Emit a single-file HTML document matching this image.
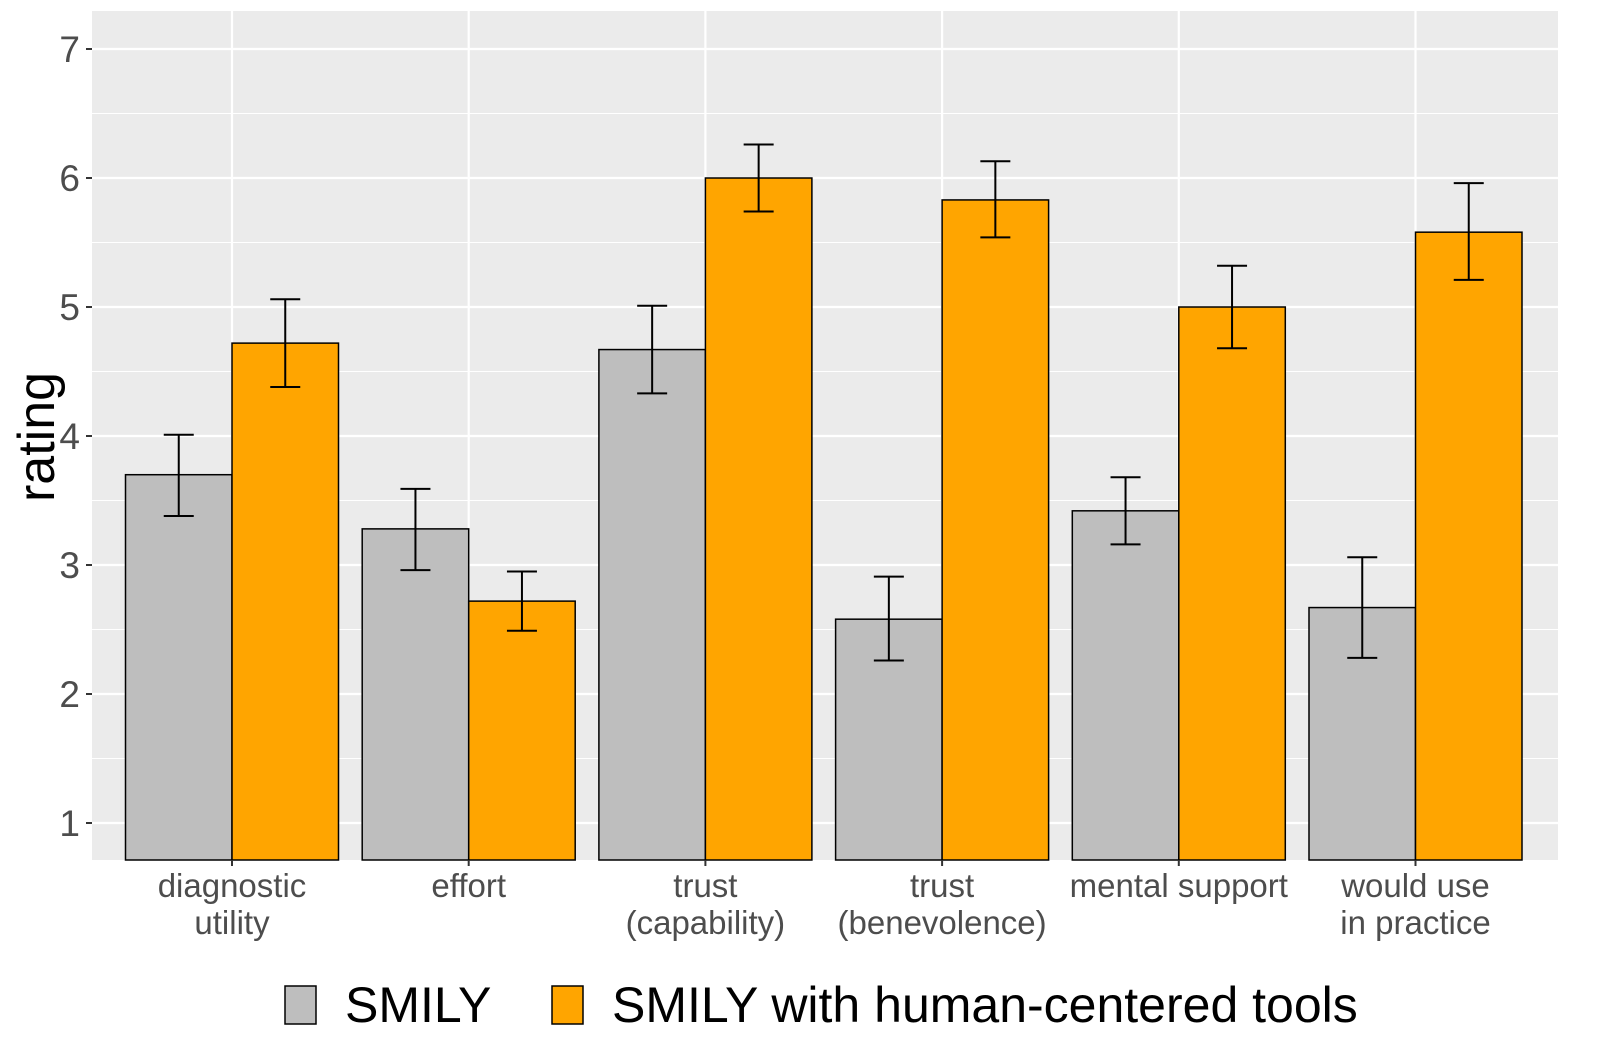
<!DOCTYPE html>
<html><head><meta charset="utf-8"><style>
body{margin:0;background:#fff;}
svg{display:block;font-family:"Liberation Sans",Arial,sans-serif;}
</style></head><body>
<svg id="chart" width="1600" height="1057" xmlns="http://www.w3.org/2000/svg">
<rect x="92" y="11" width="1466" height="849" fill="#ebebeb"/>
<g id="grid"></g><g id="bars"></g><g id="axes"></g>
<text transform="translate(54,437) rotate(-90)" text-anchor="middle" font-size="52" fill="#000">rating</text>
<g>
<rect x="285" y="986" width="31" height="38" fill="#bebebe" stroke="#000" stroke-width="1.5"/>
<text x="345" y="1022" font-size="50" fill="#000">SMILY</text>
<rect x="552" y="986" width="31" height="38" fill="#ffa500" stroke="#000" stroke-width="1.5"/>
<text x="612" y="1022" font-size="50" fill="#000">SMILY with human-centered tools</text>
</g>
</svg>
<script>
const categories=[["diagnostic","utility"],["effort"],["trust","(capability)"],["trust","(benevolence)"],["mental support"],["would use","in practice"]];
const smily=[3.70,3.28,4.67,2.58,3.42,2.67];
const smilyLo=[3.38,2.96,4.33,2.26,3.16,2.28];
const smilyHi=[4.01,3.59,5.01,2.91,3.68,3.06];
const tools=[4.72,2.72,6.00,5.83,5.00,5.58];
const toolsLo=[4.38,2.49,5.74,5.54,4.68,5.21];
const toolsHi=[5.06,2.95,6.26,6.13,5.32,5.96];
const yTicks=[1,2,3,4,5,6,7];
const NS="http://www.w3.org/2000/svg";
const y=v=>823-(v-1)*129;
const xc=i=>232+i*236.7;
const bw=106.5;
function mk(t,a,p){const e=document.createElementNS(NS,t);for(const k in a)e.setAttribute(k,a[k]);p.appendChild(e);return e;}
const grid=document.getElementById('grid'),bars=document.getElementById('bars'),axes=document.getElementById('axes');
for(let v=0.5;v<=7.3;v+=0.5){const l=mk('line',{x1:92,x2:1558,y1:y(v),y2:y(v),stroke:'#fff','stroke-width':(v%1===0)?2.2:1.1},grid);

}
categories.forEach((c,i)=>{const l=mk('line',{x1:xc(i),x2:xc(i),y1:11,y2:860,stroke:'#fff','stroke-width':2.2},grid);

});
yTicks.forEach(v=>{const t=mk('line',{x1:86,x2:92,y1:y(v),y2:y(v),stroke:'#333','stroke-width':2},axes);


const tx=mk('text',{x:80,y:y(v)+13,'text-anchor':'end','font-size':37,fill:'#4d4d4d'},axes);tx.textContent=v;

});
function bar(i,val,lo,hi,fill,off,name){
const x0=xc(i)+off;
const r=mk('rect',{x:x0,y:y(val),width:bw,height:860-y(val),fill:fill,stroke:'#000','stroke-width':1.5},bars);


const cx=x0+bw/2;
const g=mk('path',{d:`M${cx-15},${y(hi)}H${cx+15}M${cx},${y(hi)}V${y(lo)}M${cx-15},${y(lo)}H${cx+15}`,stroke:'#000','stroke-width':2,fill:'none'},bars);

}
categories.forEach((c,i)=>{
bar(i,smily[i],smilyLo[i],smilyHi[i],'#bebebe',-bw,'bar-smily');
bar(i,tools[i],toolsLo[i],toolsHi[i],'#ffa500',0,'bar-tools');
const t=mk('line',{x1:xc(i),x2:xc(i),y1:860,y2:866,stroke:'#333','stroke-width':2},axes);


c.forEach((s,k)=>{const tx=mk('text',{x:xc(i),y:897+k*37,'text-anchor':'middle','font-size':33,fill:'#4d4d4d'},axes);tx.textContent=s;

});
});
</script>
</body></html>
